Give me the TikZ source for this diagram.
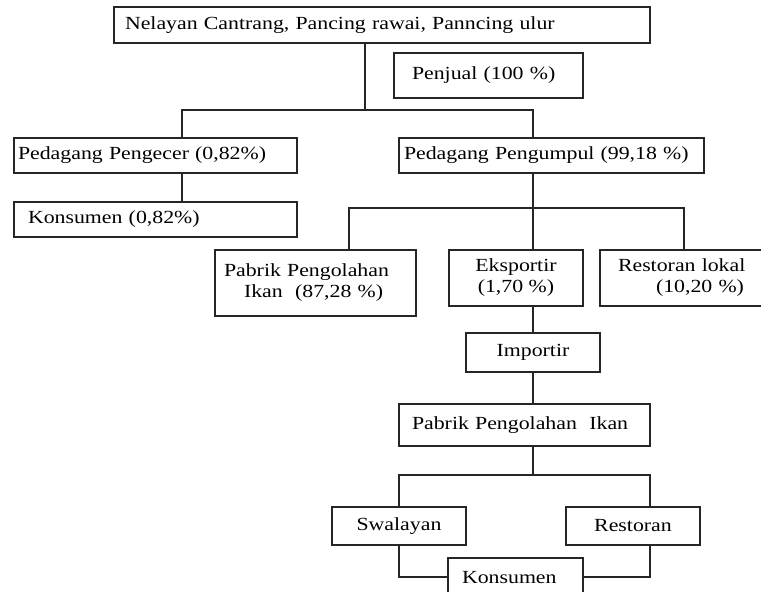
\documentclass[tikz,border=0pt]{standalone}
\usepackage{fontspec}
\setmainfont{Liberation Serif}[FakeStretch=1.18]
\begin{document}
\begin{tikzpicture}[x=1pt,y=-1pt,
  font=\fontsize{18.5}{21}\selectfont,
  line/.style={draw=black!85,line width=1.1pt},
  box/.style={line,anchor=north west,inner ysep=0pt,outer sep=0pt},
  lbox/.style n args={3}{box,minimum width=#1,minimum height=#2,text width=#1-2*#3,inner xsep=#3,align=left},
  cbox/.style 2 args={box,minimum width=#1,minimum height=#2,inner xsep=0pt,align=center}]
\useasboundingbox (0,0) rectangle (761,592);
\fill[white] (0,0) rectangle (761,592);
\node[lbox={536pt}{36pt}{11pt}] (top) at (114,7) {Nelayan Cantrang, Pancing rawai, Panncing ulur};
\node[lbox={189pt}{45pt}{18pt}] (penjual) at (394,53) {Penjual (100 \%)\\[-4pt]};
\node[lbox={283pt}{35pt}{4pt}] (pengecer) at (14,138) {Pedagang Pengecer (0,82\%)};
\node[lbox={305pt}{35pt}{5pt}] (pengumpul) at (399,138) {Pedagang Pengumpul (99,18 \%)};
\node[lbox={283pt}{35pt}{14pt}] (kons1) at (14,202) {Konsumen (0,82\%)};
\node[lbox={201pt}{66pt}{9pt}] (pabrik1) at (215,250) {Pabrik Pengolahan\\\hspace*{20pt}Ikan\ \ (87,28 \%)\\[-14pt]};
\node[cbox={134pt}{56pt}] (eksportir) at (449,250) {Eksportir\\(1,70 \%)};
\node[lbox={170pt}{56pt}{18pt}] (restlok) at (600,250) {Restoran lokal\\\hspace*{38pt}(10,20 \%)};
\node[cbox={134pt}{39pt}] (importir) at (466,333) {Importir};
\node[lbox={251pt}{42pt}{13pt}] (pabrik2) at (399,404) {Pabrik Pengolahan\ \ Ikan\\[-14pt]};
\node[cbox={134pt}{38pt}] (swalayan) at (332,507) {Swalayan};
\node[cbox={134pt}{38pt}] (restoran) at (566,507) {Restoran};
\node[lbox={135pt}{40pt}{14pt}] (kons2) at (448,558) {Konsumen};
\coordinate (bt) at (365,110);
\coordinate (b1) at (182,110);
\coordinate (b2) at (533,110);
\coordinate (c1) at (349,208);
\coordinate (c3) at (684,208);
\coordinate (d1) at (399,475);
\coordinate (d2) at (533,475);
\coordinate (d3) at (650,475);
\coordinate (e1) at (399,577);
\coordinate (e3) at (650,577);
\draw[line] (top.south -| bt) -- (bt);
\draw[line] (pengecer.north -| b1) -- (b1) -- (b2) -- (pengumpul.north -| b2);
\draw[line] (pengecer.south -| b1) -- (kons1.north -| b1);
\draw[line] (pengumpul.south -| b2) -- (eksportir.north -| b2);
\draw[line] (pabrik1.north -| c1) -- (c1) -- (c3) -- (restlok.north -| c3);
\draw[line] (eksportir.south -| b2) -- (importir.north -| b2);
\draw[line] (importir.south -| b2) -- (pabrik2.north -| b2);
\draw[line] (pabrik2.south -| d2) -- (d2);
\draw[line] (swalayan.north -| d1) -- (d1) -- (d3) -- (restoran.north -| d3);
\draw[line] (swalayan.south -| e1) -- (e1) -- (kons2.west |- e1);
\draw[line] (restoran.south -| e3) -- (e3) -- (kons2.east |- e3);
\end{tikzpicture}
\end{document}
